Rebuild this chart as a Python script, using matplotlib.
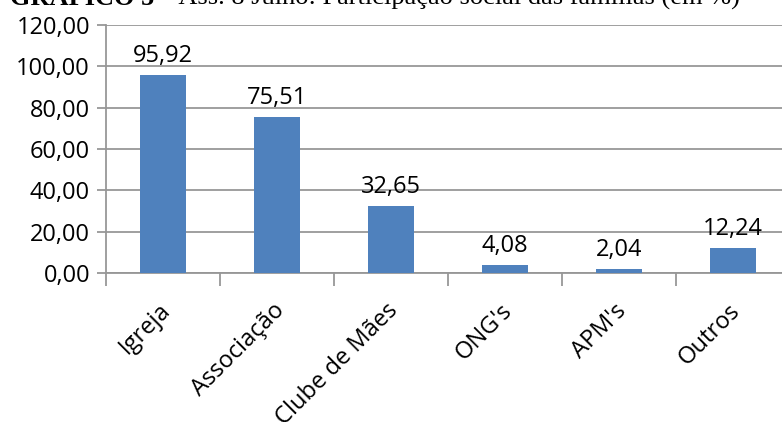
import matplotlib.pyplot as plt

categories = ["Igreja", "Associação", "Clube de Mães", "ONG's", "APM's", "Outros"]
values = [95.92, 75.51, 32.65, 4.08, 2.04, 12.24]
yticks = [0, 20, 40, 60, 80, 100, 120]

BAR = "#4F81BD"
GRID = "#979797"
FS = 17


def fmt(v):
    return f"{v:.2f}".replace(".", ",")


def main():
    plt.rcParams["font.family"] = ["Open Sans", "DejaVu Sans"]
    fig = plt.figure(figsize=(7.82, 4.22), dpi=100)
    ax = fig.add_axes([106 / 782, 1 - 273 / 422, 684 / 782, 248 / 422])

    x = range(len(categories))
    ax.bar(x, values, width=0.4, color=BAR, zorder=3)
    for i, v in zip(x, values):
        ax.annotate(fmt(v), (i, v), xytext=(0, 5), textcoords="offset points",
                    ha="center", va="bottom", fontsize=FS, color="#000000")

    ax.set_xlim(-0.5, len(categories) - 0.5)
    ax.set_ylim(0, 120)
    ax.set_yticks(yticks)
    ax.set_yticklabels([fmt(t) for t in yticks], fontsize=FS)
    ax.yaxis.grid(True, color=GRID, linewidth=1.3, zorder=0)
    ax.tick_params(axis="y", length=6.5, width=1.3, color=GRID, pad=5)

    # category labels sit between boundary ticks
    ax.set_xticks([i - 0.5 for i in range(len(categories) + 1)])
    ax.set_xticklabels([])
    ax.tick_params(axis="x", length=9, width=1.3, color=GRID)
    for i, c in enumerate(categories):
        ax.text(i - 0.04, -12.5, c, rotation=45, ha="right", va="top",
                rotation_mode="anchor", fontsize=FS,
                transform=ax.transData)

    for s in ["top", "right"]:
        ax.spines[s].set_visible(False)
    for s in ["left", "bottom"]:
        ax.spines[s].set_color(GRID)
        ax.spines[s].set_linewidth(1.3)

    # title runs off the top edge of the canvas
    base = 1 - 5 / 422
    t = fig.text(10 / 782, base, "GRÁFICO 5", fontsize=19, fontweight="bold",
                 family="Liberation Serif", va="baseline", ha="left")
    fig.canvas.draw()
    bb = t.get_window_extent()
    fig.text(bb.x1 / 782 + 6 / 782, base,
             "– Ass. 8 Julho: Participação social das famílias (em %)",
             fontsize=19, family="Liberation Serif", va="baseline", ha="left")

    fig.savefig("out.png", dpi=100)


if __name__ == "__main__":
    main()
